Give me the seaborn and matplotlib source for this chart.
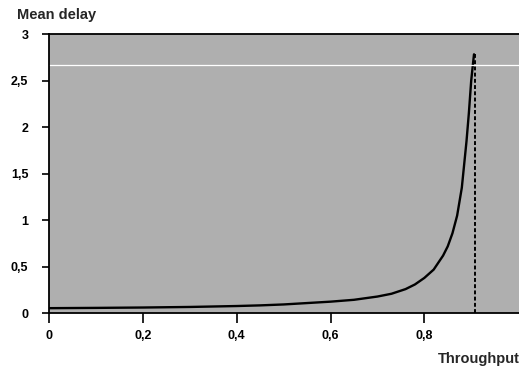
import matplotlib
matplotlib.use("Agg")
import matplotlib.pyplot as plt
import numpy as np
import pandas as pd
import seaborn as sns

# Mean delay versus throughput
throughput = [0.0, 0.1, 0.2, 0.3, 0.4, 0.45, 0.5, 0.55, 0.6, 0.65, 0.7, 0.73,
              0.76, 0.78, 0.8, 0.82, 0.84, 0.85, 0.86, 0.87, 0.88, 0.885,
              0.89, 0.895, 0.9, 0.906]
mean_delay = [0.055, 0.058, 0.062, 0.068, 0.078, 0.085, 0.095, 0.11, 0.125,
              0.145, 0.18, 0.21, 0.26, 0.31, 0.38, 0.47, 0.62, 0.72, 0.86,
              1.05, 1.35, 1.6, 1.85, 2.15, 2.5, 2.785]

# Saturation throughput (dotted vertical limit)
saturation_x = 0.908
saturation_top = 2.785

x_ticks = [0, 0.2, 0.4, 0.6, 0.8]
x_tick_labels = ["0", "0,2", "0,4", "0,6", "0,8"]
y_ticks = [0, 0.5, 1, 1.5, 2, 2.5, 3]
y_tick_labels = ["0", "0,5", "1", "1,5", "2", "2,5", "3"]

sns.set_style("ticks")
plt.rcParams["font.family"] = ["Liberation Sans", "DejaVu Sans"]
plt.rcParams["font.weight"] = "bold"

df = pd.DataFrame({"Throughput": throughput, "Mean delay": mean_delay})

fig = plt.figure(figsize=(5.19, 3.69), dpi=100)
ax = fig.add_axes([0.095, 0.151, 0.905, 0.756])
ax.set_facecolor("#afafaf")

sns.lineplot(data=df, x="Throughput", y="Mean delay", ax=ax,
             color="black", linewidth=1.7, sort=True)

ax.vlines(saturation_x, 0, saturation_top, colors="black",
          linestyles=(0, (2.0, 1.2)), linewidth=1.4)
ax.axhline(2.67, color="white", linewidth=0.9)

ax.set_xlim(0, 1.002)
ax.set_ylim(0, 3)
ax.set_xticks(x_ticks)
ax.set_xticklabels(x_tick_labels, fontsize=9, fontweight="bold")
ax.set_yticks(y_ticks)
ax.set_yticklabels(y_tick_labels, fontsize=9, fontweight="bold")

ax.set_xlabel("")
ax.set_ylabel("")

for side in ["left", "bottom", "top"]:
    ax.spines[side].set_visible(True)
    ax.spines[side].set_color("black")
    ax.spines[side].set_linewidth(1.3)
ax.spines["right"].set_visible(False)

ax.tick_params(axis="y", direction="out", length=5, width=1.2, pad=10,
               colors="black")
ax.tick_params(axis="x", direction="out", length=7, width=1.2, pad=5,
               colors="black")

fig.text(17 / 519, 1 - 15 / 369, "Mean delay", fontsize=10.5,
         fontweight="bold", ha="left", va="center")
fig.text(438 / 519, 1 - 359 / 369, "Throughput", fontsize=10.5,
         fontweight="bold", ha="left", va="center")

fig.savefig("out.png", dpi=100)
